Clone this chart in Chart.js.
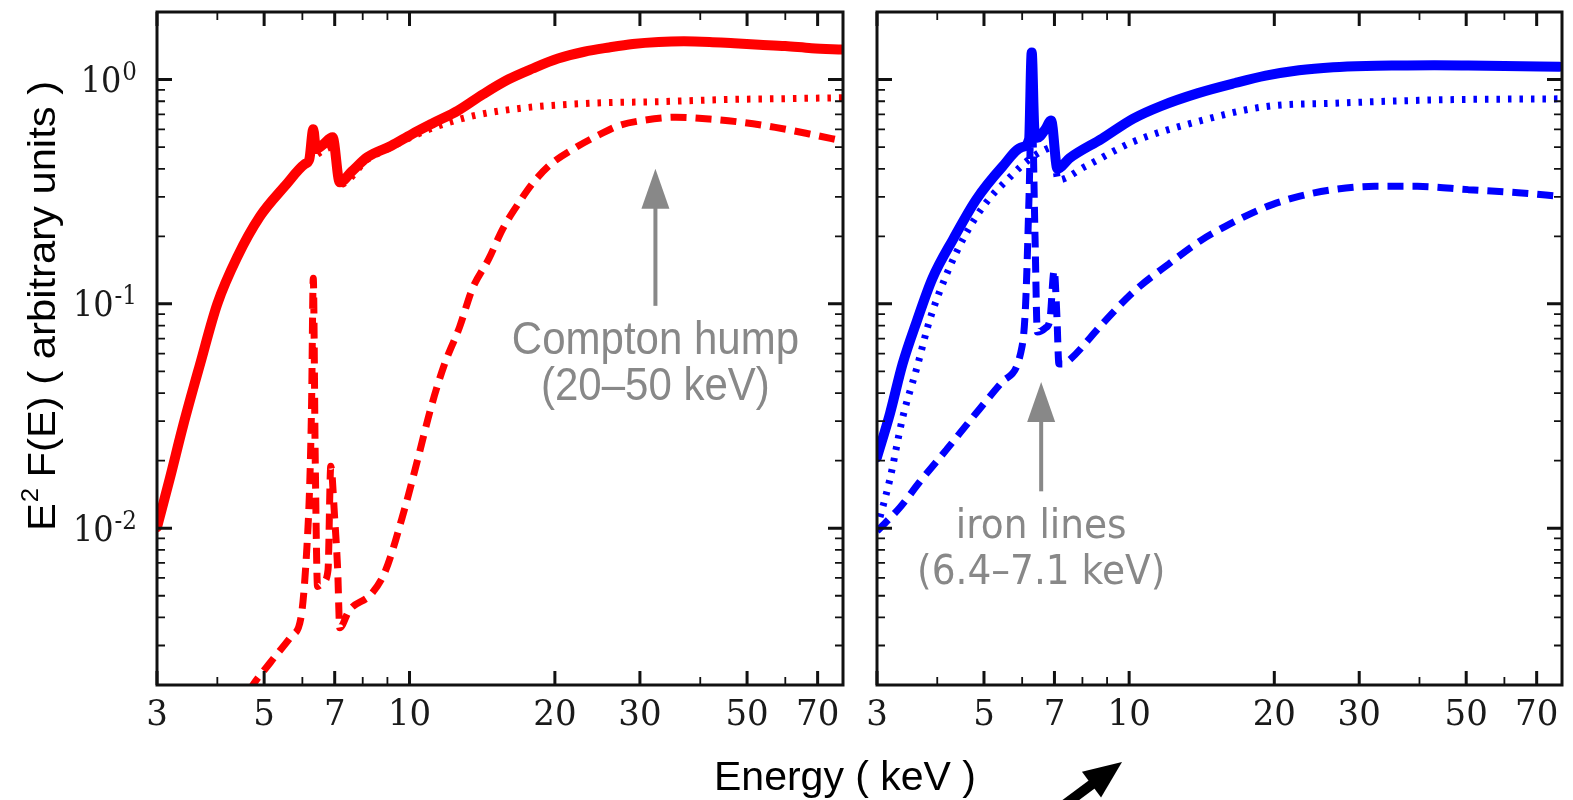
<!DOCTYPE html>
<html>
<head>
<meta charset="utf-8">
<script src="https://cdn.jsdelivr.net/npm/chart.js@4.4.1/dist/chart.umd.min.js"></script>
<style>
    body { margin: 0; background: #fff; width: 1573px; height: 800px; position: relative; overflow: hidden; }
    canvas { position: absolute; top: 0; }
    #xTitle {
        position: absolute; left: 845px; top: 776px;
        transform: translate(-50%, -50%);
        font: 41px "Liberation Sans", Arial, sans-serif;
        white-space: nowrap; color: #000;
    }
</style>
</head>
<body>
<canvas id="leftPanel" width="860" height="800" style="left:0"></canvas>
<canvas id="rightPanel" width="713" height="800" style="left:860px"></canvas>
<div id="xTitle">Energy ( keV )</div>

<script>
// axis ticks
const xMajorTicks = [3, 5, 7, 10, 20, 30, 50, 70];
const xMinorTicks = [4, 6, 8, 9, 40, 60];
const yMajorTicks = [1, 0.1, 0.01];
const yTickExponents = ['0', '-1', '-2'];

// left panel (red): total, primary continuum, reflection
const redTotalE = [3.0, 3.19, 3.4, 3.68, 4.0, 4.4, 4.9, 5.52, 6.07, 6.2, 6.32, 6.4, 6.6, 6.93, 7.17, 7.6, 8.18, 9.17, 10.1, 11.2, 12.6, 14.2, 16.0, 18.0, 20.3, 23.0, 25.9, 29.0, 32.8, 37, 41.8, 47, 53.0, 60, 68, 79];
const redTotalF = [0.0101, 0.0167, 0.0288, 0.0534, 0.1, 0.162, 0.245, 0.335, 0.42, 0.44, 0.6, 0.49, 0.51, 0.553, 0.348, 0.39, 0.451, 0.507, 0.57, 0.64, 0.727, 0.86, 1.0, 1.12, 1.24, 1.33, 1.39, 1.44, 1.47, 1.48, 1.47, 1.45, 1.43, 1.41, 1.38, 1.36];

const redPrimaryE = [3.0, 3.19, 3.4, 3.68, 4.0, 4.4, 4.9, 5.52, 6.07, 6.4, 6.93, 7.17, 8.18, 9.17, 10.1, 11.2, 13.6, 17.3, 23.8, 32.8, 45, 60, 79];
const redPrimaryF = [0.0101, 0.0167, 0.0288, 0.0534, 0.1, 0.162, 0.245, 0.335, 0.42, 0.46, 0.5, 0.34, 0.44, 0.5, 0.555, 0.61, 0.69, 0.748, 0.784, 0.797, 0.814, 0.822, 0.83];

const redReflE = [4.4, 4.68, 5.15, 5.69, 5.96, 6.12, 6.22, 6.27, 6.32, 6.38, 6.45, 6.65, 6.78, 6.87, 7.0, 7.1, 7.17, 7.5, 8.34, 8.9, 9.78, 10.4, 11.1, 11.8, 12.7, 13.5, 14.6, 15.6, 16.9, 17.9, 19.5, 22.1, 24.9, 27.1, 30.2, 35.6, 41.8, 48.7, 57.2, 67.3, 79];
const redReflF = [0.0015, 0.00192, 0.00252, 0.0033, 0.004, 0.0077, 0.0168, 0.0365, 0.13, 0.02, 0.0055, 0.0058, 0.0065, 0.0189, 0.011, 0.0065, 0.0036, 0.0043, 0.0051, 0.0064, 0.0123, 0.0203, 0.035, 0.0534, 0.079, 0.117, 0.159, 0.216, 0.285, 0.34, 0.415, 0.498, 0.572, 0.623, 0.656, 0.679, 0.667, 0.645, 0.612, 0.572, 0.532];

// right panel (blue)
const blueTotalE = [3.0, 3.19, 3.39, 3.63, 3.91, 4.32, 4.82, 5.46, 6.0, 6.2, 6.28, 6.36, 6.45, 6.7, 6.89, 7.1, 7.52, 8.78, 10.2, 11.6, 13.9, 16.6, 19.2, 22.5, 26.5, 31, 36.6, 43, 50.5, 60, 78];
const blueTotalF = [0.0207, 0.0323, 0.054, 0.084, 0.13, 0.195, 0.292, 0.409, 0.5, 0.54, 1.32, 0.6, 0.55, 0.6, 0.656, 0.4, 0.446, 0.545, 0.67, 0.76, 0.87, 0.965, 1.04, 1.1, 1.135, 1.15, 1.155, 1.158, 1.155, 1.15, 1.14];

const bluePrimaryE = [3.0, 3.19, 3.39, 3.63, 3.86, 4.18, 4.59, 5.06, 5.65, 6.2, 6.72, 6.95, 7.12, 8.1, 10.2, 14.1, 19.2, 26.5, 43.1, 60, 78];
const bluePrimaryF = [0.01, 0.0165, 0.031, 0.052, 0.085, 0.135, 0.206, 0.284, 0.366, 0.44, 0.489, 0.5, 0.357, 0.409, 0.528, 0.656, 0.758, 0.784, 0.811, 0.818, 0.82];

const blueReflE = [3.0, 3.35, 3.68, 4.18, 4.8, 5.46, 6.0, 6.1, 6.2, 6.28, 6.38, 6.45, 6.7, 6.85, 6.99, 7.08, 7.15, 7.3, 7.52, 8.78, 10.2, 12.1, 14.1, 15.8, 17.7, 19.8, 22.6, 26.5, 32.3, 39.6, 50.5, 64.1, 78];
const blueReflF = [0.0097, 0.0124, 0.0161, 0.0224, 0.0323, 0.045, 0.065, 0.1, 0.3, 0.85, 0.2, 0.075, 0.078, 0.085, 0.141, 0.09, 0.054, 0.054, 0.0562, 0.081, 0.113, 0.151, 0.192, 0.221, 0.25, 0.277, 0.302, 0.323, 0.334, 0.334, 0.323, 0.313, 0.302];

// annotation arrows, in data units (x = keV, tip/base = flux)
const comptonNote = { x: 32.3, tip: 0.40, base: 0.098, lines: ['Compton hump', '(20\u201350 keV)'], font: '42px Arial' };
const ironNote = { x: 6.57, tip: 0.0448, base: 0.0146, lines: ['iron lines', '(6.4\u20137.1 keV)'], font: '37.5px "DejaVu Sans"' };

const yMinorTicks = [];
[0.001, 0.01, 0.1, 1].forEach(d => {
    for (let k = 2; k <= 9; k++) {
        const v = d * k;
        if (v > 0.00201 && v < 1.99) yMinorTicks.push(v);
    }
});

const pts = (E, F) => E.map((e, i) => ({ x: e, y: F[i] }));

function stretchedText(ctx, text, x, y, font, align, sy) {
    ctx.save();
    ctx.translate(x, y);
    ctx.scale(1, sy);
    ctx.font = font;
    ctx.textAlign = align;
    ctx.textBaseline = 'middle';
    ctx.fillText(text, 0, 0);
    ctx.restore();
}

function drawNote(ctx, sx, sy, n) {
    const x = sx.getPixelForValue(n.x);
    const tipY = sy.getPixelForValue(n.tip);
    const baseY = sy.getPixelForValue(n.base);
    ctx.save();
    ctx.fillStyle = '#888';
    ctx.strokeStyle = '#888';
    ctx.lineWidth = 4;
    ctx.beginPath();
    ctx.moveTo(x, baseY);
    ctx.lineTo(x, tipY + 38);
    ctx.stroke();
    ctx.beginPath();
    ctx.moveTo(x, tipY);
    ctx.lineTo(x - 14, tipY + 40);
    ctx.lineTo(x + 14, tipY + 40);
    ctx.closePath();
    ctx.fill();
    n.lines.forEach((t, i) => stretchedText(ctx, t, x, baseY + 36 + i * 46, n.font, 'center', 1.08));
    ctx.restore();
}

function drawYTitle(ctx) {
    const big = '39px "Liberation Sans"', small = '24px "Liberation Sans"';
    ctx.save();
    ctx.font = big;
    const wE = ctx.measureText('E').width;
    const rest = ' F(E) ( arbitrary units )';
    const wRest = ctx.measureText(rest).width;
    ctx.font = small;
    const w2 = ctx.measureText('2').width;
    const total = wE + w2 + wRest;
    ctx.translate(41, 306);
    ctx.rotate(-Math.PI / 2);
    ctx.scale(1.07, 1);
    ctx.fillStyle = '#000';
    ctx.textBaseline = 'alphabetic';
    ctx.textAlign = 'left';
    let x0 = -total / 2;
    ctx.font = big;
    ctx.fillText('E', x0, 14);
    ctx.font = small;
    ctx.fillText('2', x0 + wE + 1, -3);
    ctx.font = big;
    ctx.fillText(rest, x0 + wE + w2, 14);
    ctx.restore();
}

function drawCornerArrow(ctx) {
    ctx.save();
    ctx.translate(262, 762);
    ctx.rotate(Math.atan2(-26, 35));
    ctx.fillStyle = '#000';
    ctx.strokeStyle = '#000';
    ctx.beginPath();
    ctx.moveTo(0, 0);
    ctx.lineTo(-38, -16);
    ctx.lineTo(-38, 16);
    ctx.closePath();
    ctx.fill();
    ctx.lineWidth = 10;
    ctx.beginPath();
    ctx.moveTo(-34, 0);
    ctx.lineTo(-140, 0);
    ctx.stroke();
    ctx.restore();
}

const panelDeco = {
    id: 'panelDeco',
    afterDatasetsDraw(chart, args, o) {
        const { ctx, chartArea: a } = chart;
        const sx = chart.scales.x, sy = chart.scales.y;
        ctx.save();
        ctx.strokeStyle = '#111';
        ctx.lineCap = 'butt';

        ctx.lineWidth = 1.8;
        ctx.beginPath();
        xMinorTicks.forEach(v => {
            const px = sx.getPixelForValue(v);
            ctx.moveTo(px, a.bottom); ctx.lineTo(px, a.bottom - 8);
            ctx.moveTo(px, a.top); ctx.lineTo(px, a.top + 8);
        });
        yMinorTicks.forEach(v => {
            const py = sy.getPixelForValue(v);
            ctx.moveTo(a.left, py); ctx.lineTo(a.left + 8, py);
            ctx.moveTo(a.right, py); ctx.lineTo(a.right - 8, py);
        });
        ctx.stroke();

        ctx.lineWidth = 3;
        ctx.beginPath();
        xMajorTicks.forEach(v => {
            const px = sx.getPixelForValue(v);
            ctx.moveTo(px, a.bottom); ctx.lineTo(px, a.bottom - 14);
            ctx.moveTo(px, a.top); ctx.lineTo(px, a.top + 14);
        });
        yMajorTicks.forEach(v => {
            const py = sy.getPixelForValue(v);
            ctx.moveTo(a.left, py); ctx.lineTo(a.left + 15, py);
            ctx.moveTo(a.right, py); ctx.lineTo(a.right - 15, py);
        });
        ctx.stroke();
        ctx.strokeRect(a.left, a.top, a.right - a.left, a.bottom - a.top);

        ctx.fillStyle = '#1a1a1a';
        xMajorTicks.forEach(v => {
            stretchedText(ctx, String(v), sx.getPixelForValue(v), a.bottom + 31, '34px "DejaVu Serif"', 'center', 1.05);
        });

        if (o.yLabels) {
            yMajorTicks.forEach((v, i) => {
                const py = sy.getPixelForValue(v);
                ctx.font = '23px "DejaVu Serif"';
                const wSup = ctx.measureText(yTickExponents[i]).width;
                const right = a.left - 20;
                stretchedText(ctx, yTickExponents[i], right - wSup, py - 6, '23px "DejaVu Serif"', 'left', 1.1);
                stretchedText(ctx, '10', right - wSup - 1, py + 3, '32px "DejaVu Serif"', 'right', 1.12);
            });
            drawYTitle(ctx);
        }
        if (o.note) drawNote(ctx, sx, sy, o.note);
        if (o.cornerArrow) drawCornerArrow(ctx);
        ctx.restore();
    }
};

const solid = (E, F, color) => ({
    data: pts(E, F), borderColor: color, borderWidth: 10,
    borderJoinStyle: 'round', borderCapStyle: 'round',
    cubicInterpolationMode: 'monotone', pointRadius: 0, fill: false
});
const dotted = (E, F, color) => ({
    data: pts(E, F), borderColor: color, borderWidth: 7, borderDash: [3.5, 8],
    borderJoinStyle: 'bevel', cubicInterpolationMode: 'monotone', pointRadius: 0, fill: false
});
const dashed = (E, F, color) => ({
    data: pts(E, F), borderColor: color, borderWidth: 7, borderDash: [16, 9],
    borderJoinStyle: 'bevel', cubicInterpolationMode: 'monotone', pointRadius: 0, fill: false
});

function makePanel(id, datasets, padding, deco) {
    return new Chart(document.getElementById(id), {
        type: 'line',
        data: { datasets: datasets },
        options: {
            responsive: false,
            animation: false,
            layout: { padding: padding },
            plugins: {
                legend: { display: false },
                tooltip: { enabled: false },
                panelDeco: deco
            },
            scales: {
                x: { type: 'logarithmic', min: 3, max: 79, display: false },
                y: { type: 'logarithmic', min: 0.002, max: 2, display: false }
            }
        },
        plugins: [panelDeco]
    });
}

makePanel('leftPanel', [
    solid(redTotalE, redTotalF, '#ff0000'),
    dotted(redPrimaryE, redPrimaryF, '#ff0000'),
    dashed(redReflE, redReflF, '#ff0000')
], { left: 157, top: 12, right: 17, bottom: 115 }, { yLabels: true, note: comptonNote });

makePanel('rightPanel', [
    solid(blueTotalE, blueTotalF, '#0000ff'),
    dotted(bluePrimaryE, bluePrimaryF, '#0000ff'),
    dashed(blueReflE, blueReflF, '#0000ff')
], { left: 17, top: 12, right: 11, bottom: 115 }, { yLabels: false, note: ironNote, cornerArrow: true });
</script>
</body>
</html>
